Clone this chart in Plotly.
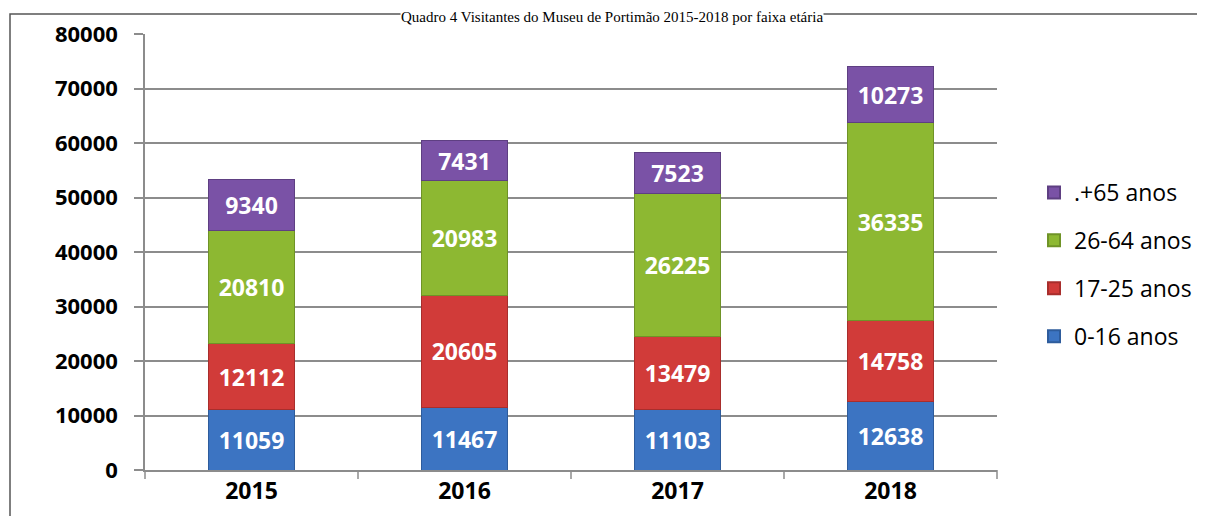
import plotly.graph_objects as go

years = ["2015", "2016", "2017", "2018"]
series_names = ["0-16 anos", "17-25 anos", "26-64 anos", ".+65 anos"]
v_0_16 = [11059, 11467, 11103, 12638]
v_17_25 = [12112, 20605, 13479, 14758]
v_26_64 = [20810, 20983, 26225, 36335]
v_65 = [9340, 7431, 7523, 10273]
y_ticks = [0, 10000, 20000, 30000, 40000, 50000, 60000, 70000, 80000]
title_text = "Quadro 4 Visitantes do Museu de Portimão 2015-2018 por faixa etária"

colors = ["#3C74C2", "#D13B39", "#8DB832", "#7A52A6"]
edges = ["#2E5C9C", "#A82E2C", "#6F9327", "#5E3F82"]
values = [v_0_16, v_17_25, v_26_64, v_65]

FONT = "Open Sans, Lato, sans-serif"

fig = go.Figure()
n = len(series_names)
for i, (name, vals, c, e) in enumerate(zip(series_names, values, colors, edges)):
    fig.add_trace(go.Bar(
        x=years, y=vals, name=name, legendgroup=name, legendrank=n - i,
        marker=dict(color=c, line=dict(color=e, width=1)),
        text=[str(v) for v in vals], textposition="inside",
        insidetextanchor="middle",
        textfont=dict(color="white", size=23, family=FONT, weight="bold"),
        width=0.4,
    ))

# page is drawn with an 8px body offset; work in page pixels and convert
OFF = 8
L, R, T, B = 145 - OFF, 997 - OFF, 34 - OFF, 470 - OFF
W, H = 1205, 516
pw, ph = R - L, B - T

def px_x(x):
    return (x - OFF - L) / pw

def px_y(y):
    return (B - (y - OFF)) / ph

fig.update_layout(
    barmode="stack",
    width=W, height=H,
    margin=dict(l=L, r=W - R, t=T, b=H - B, autoexpand=False),
    paper_bgcolor="white", plot_bgcolor="white",
    font=dict(family=FONT, color="black"),
    showlegend=True,
    legend=dict(
        x=px_x(1034), y=px_y(171), xanchor="left", yanchor="top",
        font=dict(size=23, family=FONT, color="black"),
        traceorder="grouped", itemsizing="constant",
        tracegroupgap=15, itemwidth=30,
        bgcolor="rgba(0,0,0,0)",
    ),
    xaxis=dict(
        showgrid=False, showline=True, linecolor="#8C8C8C", linewidth=1.5,
        ticks="outside", ticklen=0,
        tickfont=dict(size=23, family=FONT, color="black", weight="bold"),
        fixedrange=True,
    ),
    yaxis=dict(
        range=[0, 80000], tickvals=y_ticks,
        ticktext=[str(t) for t in y_ticks],
        showgrid=True, gridcolor="#8C8C8C", gridwidth=1.5,
        showline=True, linecolor="#8C8C8C", linewidth=1.5,
        ticks="outside", ticklen=9, tickcolor="#8C8C8C", tickwidth=1.5,
        tickfont=dict(size=22, family=FONT, color="black", weight="bold"),
        ticklabelstandoff=12,
        zeroline=False,
    ),
    bargap=0.6,
)

# category separator tick marks on x axis
for i in range(len(years) + 1):
    fig.add_shape(type="line", xref="paper", yref="paper",
                  x0=i / len(years), x1=i / len(years), y0=0, y1=px_y(479),
                  line=dict(color="#8C8C8C", width=1.5))

# outer border box (cropped at the bottom)
fig.add_shape(type="rect", xref="paper", yref="paper",
              x0=px_x(10), x1=px_x(1200), y0=px_y(540), y1=px_y(14),
              line=dict(color="#555555", width=1.5), fillcolor="rgba(0,0,0,0)",
              layer="below")

# title above the box
fig.add_annotation(text=title_text, xref="paper", yref="paper",
                   x=px_x(612), y=px_y(8), xanchor="center", yanchor="top",
                   showarrow=False, bgcolor="white", borderpad=0,
                   font=dict(family="Liberation Serif, Times New Roman, serif",
                             size=15, color="black"))

fig.write_html("out.html")
